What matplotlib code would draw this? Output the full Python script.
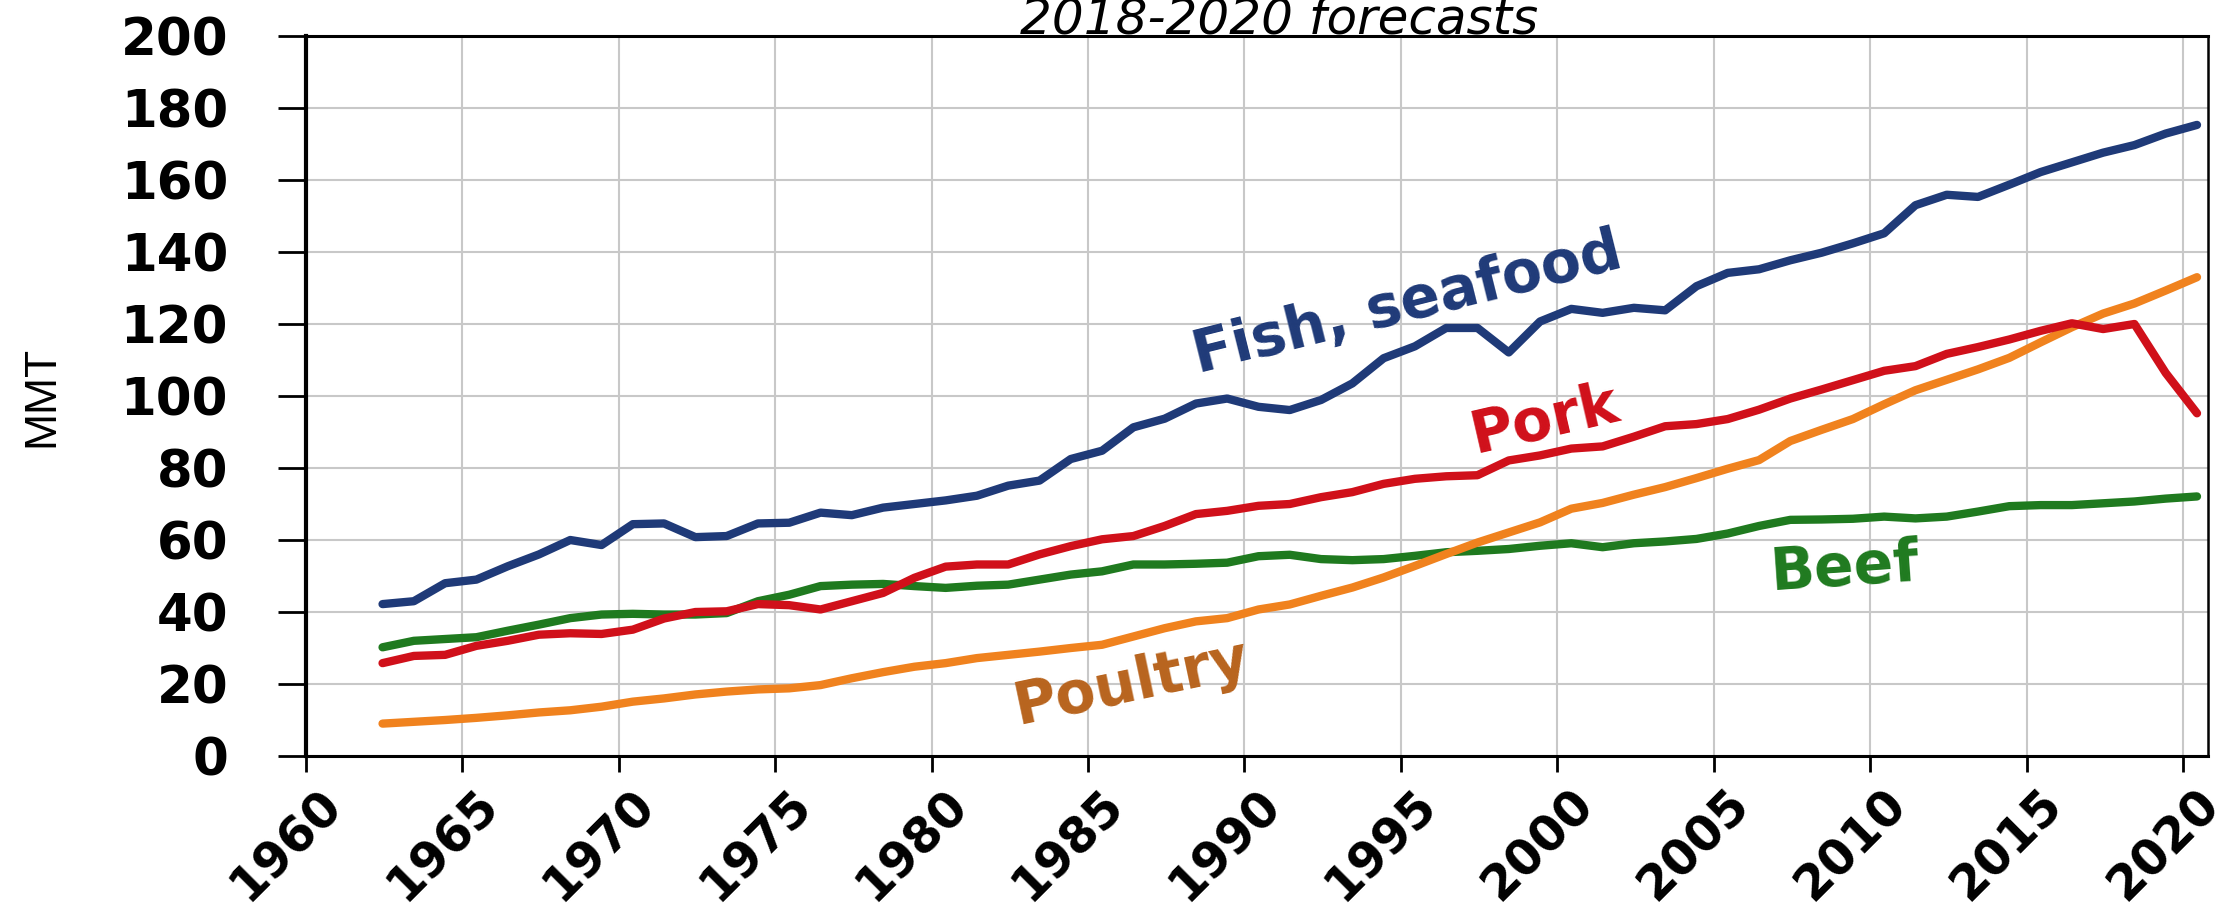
import numpy as np
import matplotlib.pyplot as plt
import matplotlib.transforms as mtransforms

# -----------------------------
# Data (million metric tons)
# -----------------------------
years = np.arange(1962, 2021)

fish = [42.2, 43.0, 48.0, 49.0, 52.7, 56.0, 60.0, 58.6, 64.4, 64.6,
        60.8, 61.1, 64.6, 64.8, 67.6, 66.9, 69.0, 70.0, 71.0, 72.3,
        75.1, 76.5, 82.5, 84.8, 91.3, 93.7, 97.9, 99.3, 97.0, 96.1,
        98.9, 103.5, 110.5, 113.8, 118.9, 118.9, 112.1, 120.7, 124.2, 123.1,
        124.5, 123.8, 130.5, 134.2, 135.2, 137.7, 139.8, 142.4, 145.2, 153.0,
        155.9, 155.3, 158.7, 162.2, 164.9, 167.6, 169.7, 172.9, 175.3]

pork = [25.8, 27.8, 28.1, 30.6, 32.0, 33.7, 34.1, 33.9, 35.1, 38.2,
        40.0, 40.2, 42.2, 41.9, 40.7, 43.0, 45.3, 49.5, 52.6, 53.2,
        53.2, 56.0, 58.3, 60.2, 61.1, 63.9, 67.2, 68.1, 69.5, 70.0,
        71.9, 73.3, 75.6, 77.0, 77.7, 78.0, 82.1, 83.5, 85.4, 86.0,
        88.7, 91.6, 92.2, 93.6, 96.2, 99.3, 101.8, 104.4, 107.0, 108.3,
        111.7, 113.6, 115.7, 118.1, 120.2, 118.6, 120.0, 106.4, 95.2]

beef = [30.2, 32.0, 32.5, 33.0, 34.8, 36.5, 38.3, 39.3, 39.5, 39.3,
        39.3, 39.7, 43.0, 44.8, 47.2, 47.6, 47.8, 47.2, 46.7, 47.3,
        47.6, 49.0, 50.4, 51.3, 53.2, 53.2, 53.4, 53.7, 55.5, 55.9,
        54.7, 54.4, 54.7, 55.6, 56.6, 57.0, 57.5, 58.4, 59.1, 58.0,
        59.1, 59.6, 60.3, 61.8, 63.9, 65.6, 65.7, 65.9, 66.5, 66.0,
        66.5, 67.9, 69.4, 69.7, 69.7, 70.2, 70.7, 71.5, 72.1]

poultry = [9.0, 9.5, 10.0, 10.6, 11.3, 12.1, 12.7, 13.7, 15.1, 16.0,
           17.1, 17.9, 18.5, 18.8, 19.7, 21.6, 23.3, 24.8, 25.8, 27.2,
           28.1, 29.0, 30.0, 30.9, 33.2, 35.5, 37.4, 38.3, 40.7, 42.1,
           44.5, 46.8, 49.6, 52.8, 56.1, 59.3, 62.1, 64.9, 68.7, 70.3,
           72.6, 74.7, 77.2, 79.8, 82.2, 87.5, 90.6, 93.6, 97.7, 101.6,
           104.5, 107.4, 110.6, 114.9, 119.1, 122.9, 125.7, 129.3, 133.0]

x_ticks = list(range(1960, 2021, 5))
y_ticks = list(range(0, 201, 20))

# colours
c_fish = "#1f3a78"
c_pork = "#d0101a"
c_beef = "#1f7a1f"
c_poultry = "#f0821e"
c_poultry_txt = "#b8641e"

# -----------------------------
# Plot
# -----------------------------
fig = plt.figure(figsize=(22.28, 9.09), dpi=100)
ax = fig.add_axes([0.1373, 0.1683, 0.8537, 0.7921])

xpos = years + 0.45  # annual values sit mid-year on the date axis

line_kw = dict(lw=6, solid_capstyle="round", solid_joinstyle="round")
ax.plot(xpos, beef, color=c_beef, **line_kw)
ax.plot(xpos, poultry, color=c_poultry, **line_kw)
ax.plot(xpos, pork, color=c_pork, **line_kw)
ax.plot(xpos, fish, color=c_fish, **line_kw)

ax.set_xlim(1960, 2020.8)
ax.set_ylim(0, 200)
ax.set_xticks(x_ticks)
ax.set_yticks(y_ticks)

ax.grid(color="#c8c8c8", lw=1.5)
ax.set_axisbelow(True)

ax.tick_params(axis="y", direction="out", length=20, width=2, pad=36,
               labelsize=37)
ax.tick_params(axis="x", direction="out", length=11.5, width=2, pad=6)
for lab in ax.get_yticklabels():
    lab.set_fontweight("bold")
ax.set_xticklabels([str(t) for t in x_ticks], rotation=45, ha="center",
                   va="top", fontsize=35, fontweight="bold")
# nudge the slanted year labels a little to the left, as in the original
shift = mtransforms.ScaledTranslation(-14 / 72, 0, fig.dpi_scale_trans)
for lab in ax.get_xticklabels():
    lab.set_transform(lab.get_transform() + shift)

ax.spines["left"].set_linewidth(3)
ax.spines["bottom"].set_linewidth(2.2)
ax.spines["top"].set_linewidth(2.2)
ax.spines["right"].set_linewidth(1.8)

ax.set_ylabel("MMT", fontsize=32, family="Liberation Sans")
ax.yaxis.set_label_coords(-0.128, 0.5)

# series labels
lab_kw = dict(ha="center", va="center", rotation_mode="anchor",
              fontsize=42, fontweight="bold")
ax.text(1995.2, 125.5, "Fish, seafood", color=c_fish, rotation=14, **lab_kw)
ax.text(1999.6, 93.3, "Pork", color=c_pork, rotation=13, **lab_kw)
ax.text(2009.2, 52.2, "Beef", color=c_beef, rotation=4, **lab_kw)
ax.text(1986.4, 20.3, "Poultry", color=c_poultry_txt, rotation=12, **lab_kw)

fig.text(0.574, 0.963, "2018-2020 forecasts", style="italic", fontsize=36,
         ha="center", va="baseline")

fig.savefig("out.png", dpi=100)
